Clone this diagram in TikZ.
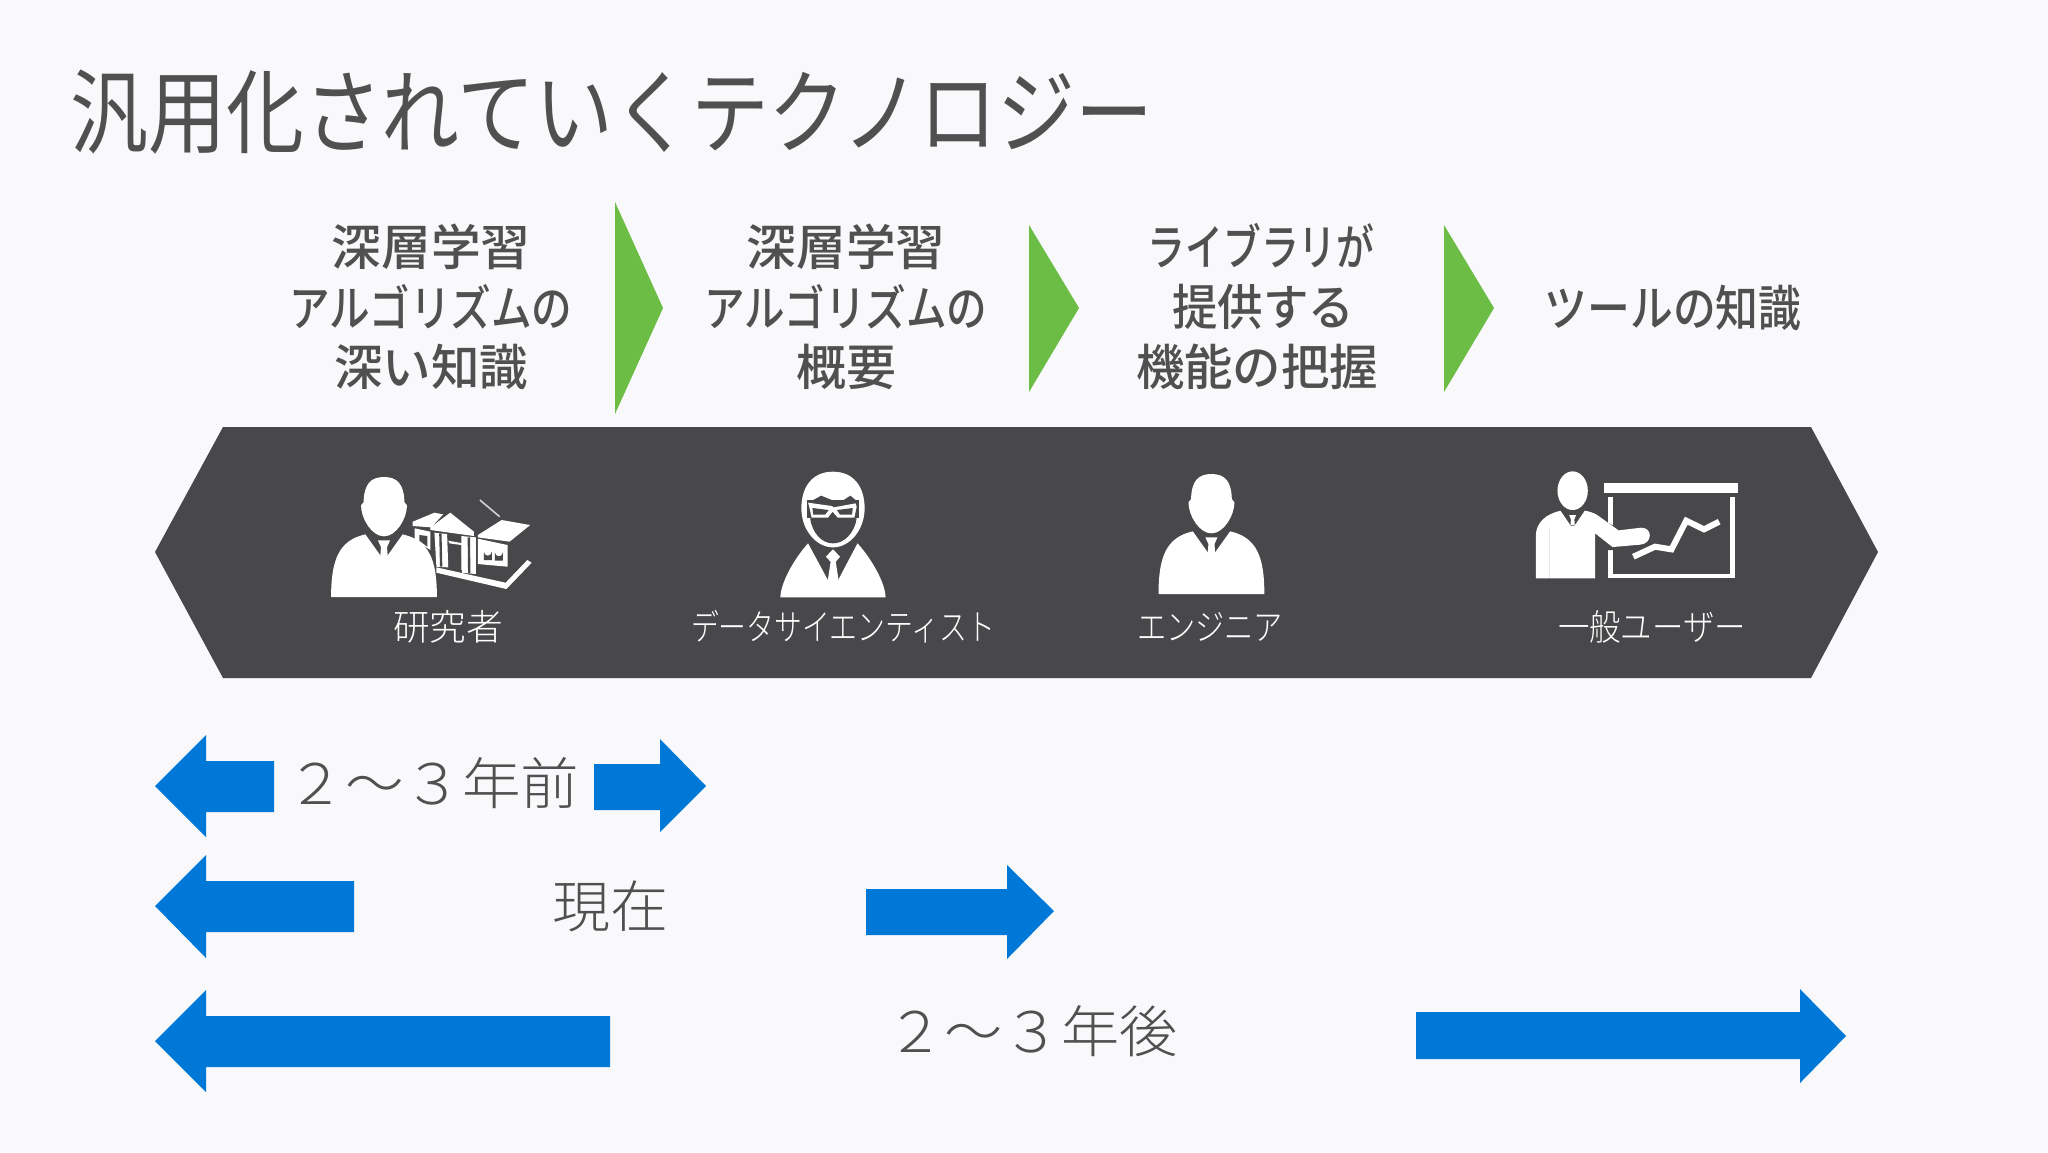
\documentclass[tikz,border=0pt]{standalone}
\usepackage{fontspec}
\setmainfont[BoldFont={Noto Sans CJK JP Medium}]{Noto Sans CJK JP Light}
\newfontfamily\midf{Noto Sans CJK JP Medium}
\newfontfamily\regf{Noto Sans CJK JP}
\definecolor{bgc}{HTML}{F9F9FB}
\definecolor{darkc}{HTML}{48474A}
\definecolor{greenc}{HTML}{6CBD45}
\definecolor{bluec}{HTML}{0078D7}
\definecolor{textc}{HTML}{505050}
\newsavebox{\fitbox}
\newcommand{\fitx}[2]{\sbox{\fitbox}{#2}\pgfmathsetmacro{\fitr}{(#1*0.5)/(\wd\fitbox/1pt)}\scalebox{\fitr}[1]{\usebox{\fitbox}}}
\tikzset{
 lab/.style={inner sep=0pt,anchor=center,text=textc},
 head/.style={lab,font=\fontsize{24.5}{28}\selectfont\midf},
 who/.style={inner sep=0pt,anchor=center,text=white,font=\fontsize{18}{20}\selectfont},
 era/.style={lab,font=\fontsize{28}{32}\selectfont},
 tri/.style={fill=greenc,draw=none},
 blue/.style={fill=bluec,draw=none},
 ico/.style={fill=white,draw=none},
 icod/.style={fill=darkc,draw=none},
 zoomA/.style={shift={(300,450)},x=0.1977pt,y=-0.1667pt},
 zoomB/.style={shift={(1100,450)},x=0.2168pt,y=-0.1667pt},
}
% person bust, origin at the top of the head
\newcommand{\person}{%
 \fill[ico] (0,0) .. controls (30,0) and (46,20) .. (47,75) -- (53,85) .. controls (53,125) and (28,178) .. (0,178) .. controls (-28,178) and (-53,125) .. (-53,85) -- (-47,75) .. controls (-46,20) and (-30,0) .. (0,0) -- cycle;
 \fill[ico] (-122,360) .. controls (-122,250) and (-105,190) .. (-43,172) -- (-3,245) -- (3,245) -- (43,172) .. controls (105,190) and (122,250) .. (122,360) -- cycle;
 \fill[ico] (-14,190) -- (14,190) -- (7,210) -- (9,245) -- (0,250) -- (-9,245) -- (-7,210) -- cycle;
}
\begin{document}
\begin{tikzpicture}[x=0.5pt,y=-0.5pt]
\useasboundingbox (0,0) rectangle (2048,1152);
\fill[bgc] (0,0) rectangle (2048,1152);
% title
\node[lab,font=\fontsize{46}{50}\selectfont\regf,text=textc] (title) at (612,112) {\fitx{1083}{汎用化されていくテクノロジー}};
% green chevrons
\fill[tri] (615,202) -- (663,308) -- (615,414) -- cycle;
\fill[tri] (1029,225) -- (1079,308) -- (1029,392) -- cycle;
\fill[tri] (1444,225) -- (1494,308) -- (1444,392) -- cycle;
% headings
\node[head] (h1a) at (431,247) {\fitx{199}{深層学習}};
\node[head] (h1b) at (431,307) {\fitx{283}{アルゴリズムの}};
\node[head] (h1c) at (431,367) {\fitx{194}{深い知識}};
\node[head] (h2a) at (846,247) {\fitx{199}{深層学習}};
\node[head] (h2b) at (846,307) {\fitx{283}{アルゴリズムの}};
\node[head] (h2c) at (846,367) {\fitx{100}{概要}};
\node[head] (h3a) at (1261,246) {\fitx{227}{ライブラリが}};
\node[head] (h3b) at (1263,307) {\fitx{182}{提供する}};
\node[head] (h3c) at (1257,367) {\fitx{242}{機能の把握}};
\node[head] (h4) at (1673,308) {\fitx{257}{ツールの知識}};
% dark band
\fill[darkc] (155,552) -- (223,427) -- (1811,427) -- (1878,552) -- (1811,678) -- (223,678) -- cycle;
% researcher
\begin{scope}[shift={(384,477)},x=0.2168pt,y=-0.1667pt]
 \person
\end{scope}
\begin{scope}[zoomA]
 \draw[white!75!darkc,line width=0.8pt] (455,150) -- (505,200);
 \fill[ico] (285,215) -- (340,188) -- (362,193) -- (332,232) -- (285,228) -- cycle;
 \fill[ico] (330,232) -- (380,188) -- (440,245) -- (440,258) -- (330,240) -- cycle;
 \fill[ico] (450,255) -- (510,210) -- (582,225) -- (530,275) -- (450,262) -- cycle;
 \fill[ico] (290,235) -- (330,245) -- (330,300) -- (290,270) -- cycle;
 \fill[icod] (302,255) -- (322,258) -- (322,290) -- (302,272) -- cycle;
 \fill[ico] (340,248) -- (372,252) -- (375,352) -- (345,350) -- cycle;
 \fill[icod] (352,250) -- (358,250) -- (360,350) -- (354,350) -- cycle;
 \fill[ico] (375,272) -- (412,280) -- (412,360) -- (408,360) -- (408,285) -- (378,280) -- cycle;
 \fill[ico] (408,258) -- (445,262) -- (445,372) -- (410,368) -- cycle;
 \fill[icod] (424,262) -- (430,262) -- (431,370) -- (425,368) -- cycle;
 \fill[ico] (450,266) -- (525,285) -- (525,350) -- (450,342) -- cycle;
 \fill[icod] (465,330) -- (465,305) arc (180:0:10 and 12) -- (485,330) -- cycle;
 \fill[icod] (493,332) -- (493,307) arc (180:0:10 and 12) -- (513,332) -- cycle;
 \fill[ico] (345,352) -- (345,368) -- (522,417) -- (586,338) -- (575,330) -- (520,398) -- cycle;
\end{scope}
% data scientist
\begin{scope}[zoomA]
 \fill[ico] (1348,65) .. controls (1400,65) and (1428,110) .. (1428,175) .. controls (1428,240) and (1390,292) .. (1348,292) .. controls (1306,292) and (1268,240) .. (1268,175) .. controls (1268,110) and (1296,65) .. (1348,65) -- cycle;
 \fill[icod] (1290,205) .. controls (1296,250) and (1320,280) .. (1348,280) .. controls (1376,280) and (1402,250) .. (1408,205) -- (1352,200) -- (1344,200) -- cycle;
 \fill[icod] (1282,205) rectangle (1414,150);
 \fill[icod] (1298,150) -- (1318,137) -- (1345,150) -- (1375,150) -- (1392,137) -- (1405,150) -- cycle;
 \fill[ico] (1285,158) -- (1345,168) -- (1350,172) -- (1405,160) -- (1408,170) -- (1402,203) -- (1360,203) -- (1347,185) -- (1335,203) -- (1294,203) -- (1288,170) -- cycle;
 \fill[icod] (1296,174) -- (1337,180) -- (1328,194) -- (1298,194) -- cycle;
 \fill[icod] (1358,180) -- (1398,174) -- (1396,194) -- (1366,194) -- cycle;
 \fill[ico] (1215,442) .. controls (1215,400) and (1250,325) .. (1285,280) -- (1335,390) -- (1361,390) -- (1410,280) .. controls (1445,325) and (1481,400) .. (1481,442) -- cycle;
 \fill[ico] (1348,298) -- (1366,320) -- (1355,335) -- (1362,390) -- (1335,390) -- (1342,335) -- (1330,320) -- cycle;
\end{scope}
% engineer
\begin{scope}[zoomB]
 \begin{scope}[shift={(257,72)}]
  \person
 \end{scope}
\end{scope}
% presenter
\begin{scope}[zoomB]
 \fill[ico] (1090,122) ellipse (35 and 58);
 \fill[ico] (1162,100) rectangle (1472,130);
 \draw[white,line width=2.4pt] (1177,140) -- (1177,378) -- (1458,378) -- (1458,140);
 \fill[icod] (1150,205) -- (1205,240) -- (1205,300) -- (1150,300) -- cycle;
 \fill[ico] (1005,385) -- (1005,260) .. controls (1005,215) and (1030,192) .. (1062,182) -- (1086,228) -- (1094,228) -- (1118,182) .. controls (1135,186) and (1145,192) .. (1152,200) -- (1196,241) -- (1248,233) .. controls (1262,233) and (1268,245) .. (1268,256) .. controls (1268,272) and (1258,283) .. (1245,284) -- (1182,291) -- (1142,250) -- (1142,385) -- cycle;
 \draw[icod,line width=0.8pt] (1037,232) -- (1037,385);
 \fill[icod] (1062,180) -- (1118,180) -- (1090,228) -- cycle;
 \fill[ico] (1082,195) -- (1098,195) -- (1094,208) -- (1095,226) -- (1085,226) -- (1086,208) -- cycle;
 \draw[white,line width=3pt,line join=miter] (1230,320) -- (1280,290) -- (1318,298) -- (1352,212) -- (1393,238) -- (1428,215);
\end{scope}
% role labels
\node[who] (r1) at (448,627) {\fitx{110}{研究者}};
\node[who] (r2) at (843,627) {\fitx{304}{データサイエンティスト}};
\node[who] (r3) at (1210,627) {\fitx{146}{エンジニア}};
\node[who] (r4) at (1652,627) {\fitx{188}{一般ユーザー}};
% blue arrows
\fill[blue] (155,786) -- (206,735) -- (206,761) -- (274,761) -- (274,812) -- (206,812) -- (206,837) -- cycle;
\fill[blue] (594,764) -- (660,764) -- (660,739) -- (706,786) -- (660,832) -- (660,810) -- (594,810) -- cycle;
\fill[blue] (155,906) -- (206,855) -- (206,881) -- (354,881) -- (354,932) -- (206,932) -- (206,958) -- cycle;
\fill[blue] (866,889) -- (1007,889) -- (1007,865) -- (1054,911) -- (1007,959) -- (1007,935) -- (866,935) -- cycle;
\fill[blue] (155,1041) -- (206,990) -- (206,1016) -- (610,1016) -- (610,1067) -- (206,1067) -- (206,1092) -- cycle;
\fill[blue] (1416,1012) -- (1800,1012) -- (1800,989) -- (1846,1036) -- (1800,1083) -- (1800,1059) -- (1416,1059) -- cycle;
% era labels
\node[era] (e1) at (433,783) {\fitx{293}{２～３年前}};
\node[era] (e2) at (610,906) {\fitx{116}{現在}};
\node[era] (e3) at (1032,1031) {\fitx{291}{２～３年後}};
\end{tikzpicture}
\end{document}
